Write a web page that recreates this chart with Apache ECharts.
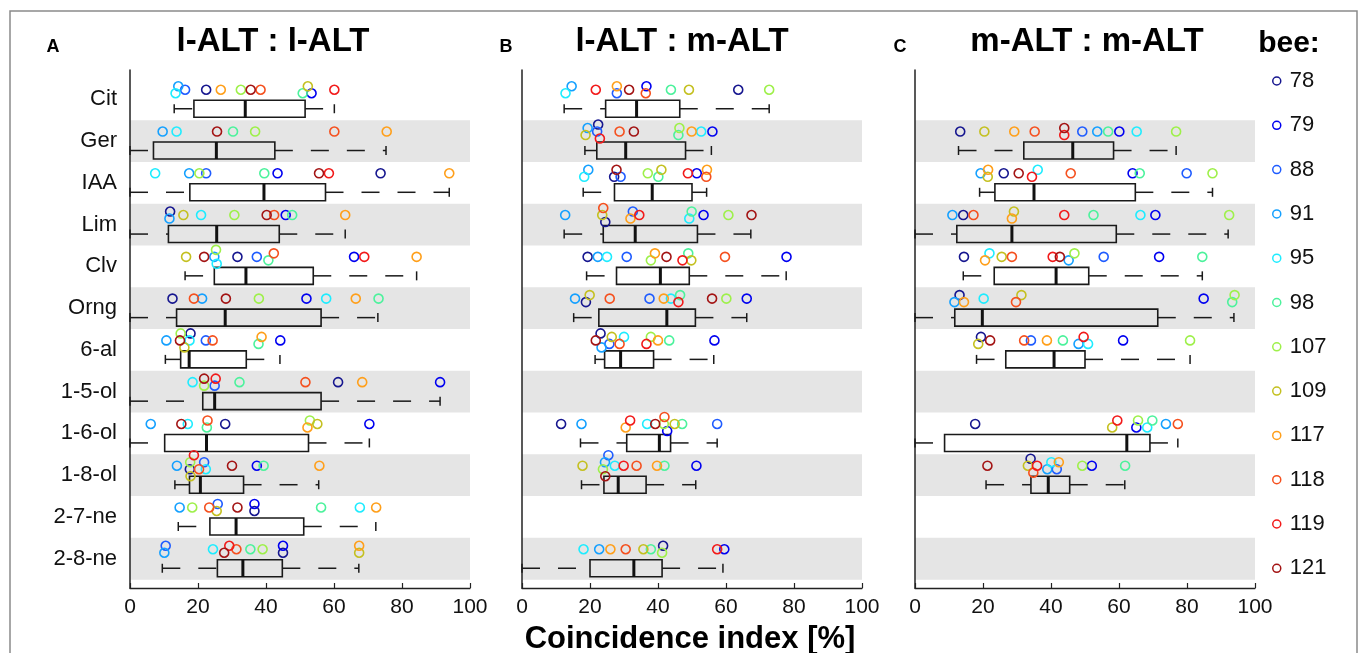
<!DOCTYPE html>
<html><head><meta charset="utf-8">
<script src="https://cdn.jsdelivr.net/npm/echarts@6/dist/echarts.min.js"></script>
<style>html,body{margin:0;padding:0;background:#fff}#chart{width:1359px;height:653px}</style>
</head><body><div id="chart"></div>
<script>
const categories = ['Cit','Ger','IAA','Lim','Clv','Orng','6-al','1-5-ol','1-6-ol','1-8-ol','2-7-ne','2-8-ne'];
const bees = ['78','79','88','91','95','98','107','109','117','118','119','121'];
const panelTitles = ['l-ALT : l-ALT','l-ALT : m-ALT','m-ALT : m-ALT'];
const panelLetters = ['A','B','C'];
const xAxisName = 'Coincidence index [%]';
const legendTitle = 'bee:';

// box statistics per category: [lower whisker, q1, median, q3, upper whisker]
const boxA = [
  [13.0,18.8,33.9,51.5,60.1],[0,6.9,25.4,42.6,75.3],[0,17.6,39.4,57.5,93.9],[0,11.3,25.5,43.9,63.3],
  [16.2,24.8,34.1,53.9,84.3],[0,13.7,28.0,56.2,72.9],[10.4,14.9,17.4,34.2,44.1],[0,21.4,24.9,56.2,91.2],
  [0,10.2,22.5,52.5,70.4],[13.2,17.5,20.7,33.4,55.5],[14.2,23.5,31.2,51.1,72.3],[9.5,25.7,33.2,44.8,67.3]
];
const boxB = [
  [12.4,24.6,33.7,46.4,72.7],[18.5,22.0,30.5,48.1,55.7],[18.0,27.2,38.3,50.0,54.3],[12.4,23.9,33.3,51.6,67.3],
  [19.0,27.8,40.7,49.2,77.7],[15.2,22.6,42.6,51.0,66.1],[21.5,24.3,29.0,38.7,56.4],null,
  [17.2,30.8,40.4,43.7,57.4],[17.5,24.1,28.3,36.5,51.1],null,[0,20.0,32.9,41.2,59.1]
];
const boxC = [
  null,[12.8,32.0,46.4,58.4,76.8],[19.0,23.5,35.0,64.8,87.5],[0,12.3,28.5,59.2,92.1],
  [14.2,23.3,41.5,51.1,84.5],[0,11.7,19.8,71.4,93.8],[18.1,26.7,40.9,50.0,80.9],null,
  [0,8.7,62.3,69.1,77.3],[20.9,34.1,39.2,45.5,61.7],null,null
];

// per-bee values per category (bee order as in `bees`)
const _ = null;
const beeValsA = [
  [22.4,53.4,16.2,14.2,13.4,50.8,32.6,52.3,26.7,38.4,60.1,35.5],
  [_,_,_,9.6,13.7,30.3,36.8,_,75.5,60.1,_,25.6],
  [73.7,43.4,22.4,17.4,7.4,39.5,20.4,_,93.9,_,58.5,55.6],
  [11.8,45.8,_,11.6,20.9,47.7,30.7,15.7,63.3,42.4,_,40.2],
  [31.6,65.9,37.3,24.8,25.5,40.7,25.3,16.5,84.3,42.3,68.9,21.8],
  [12.5,51.9,_,21.2,57.7,73.1,37.9,_,66.4,18.8,_,28.2],
  [17.8,44.2,22.3,10.7,17.5,37.8,14.9,16.0,38.7,24.3,_,14.7],
  [61.2,91.2,24.9,_,18.4,32.2,21.8,_,68.3,51.6,25.2,21.8],
  [28.0,70.4,_,6.1,17.0,22.6,52.9,55.1,52.2,22.8,_,15.1],
  [17.6,37.3,21.8,13.8,22.3,39.3,17.7,17.8,55.7,20.3,18.8,30.0],
  [36.6,36.6,25.8,14.6,67.6,56.2,18.3,25.5,72.4,23.3,_,31.6],
  [45.0,45.0,10.5,10.1,24.4,35.4,39.0,67.4,67.4,31.3,29.2,27.7]
];
const beeValsB = [
  [63.6,36.6,27.9,14.6,12.8,43.8,72.7,49.1,27.9,36.4,21.7,31.5],
  [22.4,56.0,22.1,19.3,52.7,46.0,46.3,18.7,49.9,28.7,22.9,32.9],
  [27.1,51.4,29.0,19.5,18.3,40.1,37.0,41.0,54.4,54.2,48.8,27.8],
  [24.5,53.4,32.6,12.7,49.2,49.9,60.7,23.6,31.9,23.9,34.5,67.5],
  [19.3,77.8,30.8,22.3,25.0,48.9,37.9,49.8,39.1,59.7,47.2,42.5],
  [18.8,66.1,37.5,15.6,43.8,46.5,60.1,19.9,41.7,25.8,46.0,55.9],
  [23.1,56.6,25.7,23.4,30.0,43.3,37.9,26.4,40.0,28.7,36.6,21.7],
  [_,_,_,_,_,_,_,_,_,_,_,_],
  [11.5,42.7,57.4,17.5,36.8,47.1,41.7,44.9,30.5,41.9,31.8,39.2],
  [_,51.3,25.4,24.4,27.3,41.9,23.8,17.8,39.7,33.7,29.9,24.5],
  [_,_,_,_,_,_,_,_,_,_,_,_],
  [41.5,59.5,_,22.7,18.1,37.9,41.2,35.7,26.0,30.5,57.4,_]
];
const beeValsC = [
  [_,_,_,_,_,_,_,_,_,_,_,_],
  [13.3,60.1,49.2,53.6,65.2,56.8,76.8,20.4,29.2,35.2,43.9,43.9],
  [26.1,64.0,79.9,19.3,36.1,66.1,87.5,21.4,21.5,45.8,34.4,30.5],
  [14.2,70.7,_,11.0,66.3,52.5,92.4,29.1,28.5,17.2,43.9,_],
  [14.4,71.8,55.5,45.2,21.9,84.5,46.9,25.5,20.6,28.5,40.5,42.6],
  [13.1,84.9,_,11.6,20.2,93.3,94.0,31.3,14.4,29.7,_,_],
  [19.4,61.2,34.1,48.1,50.9,43.5,80.9,18.6,38.8,32.1,49.6,22.1],
  [_,_,_,_,_,_,_,_,_,_,_,_],
  [17.7,65.1,_,73.8,68.3,69.8,65.6,58.0,_,77.3,59.5,_],
  [34.0,52.0,41.7,38.9,40.1,61.8,49.2,33.2,42.3,34.8,35.9,21.3],
  [_,_,_,_,_,_,_,_,_,_,_,_],
  [_,_,_,_,_,_,_,_,_,_,_,_]
];

// styles
const beeColors = ['#16168f','#0000f0','#1f5cff','#14a0ff','#1eecff','#4cf29c','#9ef04a','#c4c020','#ff9f1a','#f5501e','#f21a1a','#a31414'];
const FONT = '"Liberation Sans", Arial, Helvetica, sans-serif';
const panelLeft = [130, 522, 915];
const panelWidth = 340;
const plotTop = 70, plotHeight = 518;
const titleX = [273, 682, 1087];
const letterX = [53, 506, 900];
const JITTER_STEP = 7;

const boxes = [boxA, boxB, boxC];
const beeVals = [beeValsA, beeValsB, beeValsC];

// de-overlap markers: stack colliding circles, then centre each stacked cluster
function jitterLevels(row) {
  const idx = row.map((v, b) => v == null ? -1 : b).filter(b => b >= 0).sort((a, b) => row[a] - row[b]);
  const placed = [], lv = {};
  const order = [0, -1, 1, -2, 2];
  idx.forEach(b => {
    lv[b] = 0;
    for (const L of order) {
      if (!placed.some(p => p.L === L && Math.abs(p.v - row[b]) < 1.8)) { lv[b] = L; break; }
    }
    placed.push({ L: lv[b], v: row[b] });
  });
  // clusters of mutually close points
  let cluster = [];
  const flush = () => {
    if (cluster.length > 1) {
      const ls = cluster.map(b => lv[b]);
      const mid = (Math.min(...ls) + Math.max(...ls)) / 2;
      cluster.forEach(b => { lv[b] -= mid; });
    }
    cluster = [];
  };
  idx.forEach((b, k) => {
    if (k > 0 && row[b] - row[idx[k - 1]] >= 1.8) flush();
    cluster.push(b);
  });
  flush();
  return lv;
}

function boxRender(params, api) {
  const c = api.value(0);
  const xs = [1, 2, 3, 4, 5].map(i => api.coord([api.value(i), c])[0]);
  const yc = api.coord([0, c])[1] + 9.5;
  const h = 8.5, ch = 4.5;
  const st = { stroke: '#1a1a1a', lineWidth: 1.5, fill: null };
  return { type: 'group', children: [
    { type: 'line', shape: { x1: xs[0], y1: yc, x2: xs[1], y2: yc }, style: Object.assign({}, st, { lineDash: [18, 18] }) },
    { type: 'line', shape: { x1: xs[3], y1: yc, x2: xs[4], y2: yc }, style: Object.assign({}, st, { lineDash: [18, 18] }) },
    { type: 'line', shape: { x1: xs[0], y1: yc - ch, x2: xs[0], y2: yc + ch }, style: st },
    { type: 'line', shape: { x1: xs[4], y1: yc - ch, x2: xs[4], y2: yc + ch }, style: st },
    { type: 'rect', shape: { x: xs[1], y: yc - h, width: xs[3] - xs[1], height: 2 * h }, style: { stroke: '#1a1a1a', lineWidth: 1.6, fill: 'rgba(0,0,0,0)' } },
    { type: 'line', shape: { x1: xs[2], y1: yc - h, x2: xs[2], y2: yc + h }, style: { stroke: '#111', lineWidth: 3 } }
  ]};
}

function bandRender(params, api) {
  const i = api.value(0);
  const p1 = api.coord([0, i - 0.5]);
  const p2 = api.coord([100, i + 0.5]);
  return { type: 'rect', shape: { x: p1[0], y: p1[1], width: p2[0] - p1[0], height: p2[1] - p1[1] }, style: { fill: '#e5e5e5' } };
}

const grid = [], xAxis = [], yAxis = [], series = [];
for (let p = 0; p < 3; p++) {
  grid.push({ left: panelLeft[p], top: plotTop, width: panelWidth, height: plotHeight });
  xAxis.push({
    type: 'value', gridIndex: p, min: 0, max: 100, interval: 20,
    axisLine: { onZero: false, lineStyle: { color: '#222', width: 1.3 } },
    axisTick: { inside: true, length: 5, lineStyle: { color: '#222', width: 1.2 } },
    axisLabel: { fontSize: 21, color: '#111', margin: 9, fontFamily: FONT },
    splitLine: { show: false }
  });
  yAxis.push({
    type: 'value', gridIndex: p, min: -0.7, max: 11.7, inverse: true,
    axisLine: { show: true, onZero: false, lineStyle: { color: '#222', width: 1.5 } },
    axisTick: { show: false },
    splitLine: { show: false },
    axisLabel: p === 0 ? {
      show: true, customValues: categories.map((c, i) => i),
      formatter: v => categories[Math.round(v)], fontSize: 22, color: '#111', margin: 13, fontFamily: FONT
    } : { show: false }
  });
  series.push({
    type: 'custom', xAxisIndex: p, yAxisIndex: p, z: -1, silent: true,
    renderItem: bandRender, encode: { x: -1, y: 0 },
    data: categories.map((c, i) => i).filter(i => i % 2 === 1).map(i => [i])
  });
  series.push({
    type: 'custom', xAxisIndex: p, yAxisIndex: p, z: 3, silent: true,
    renderItem: boxRender, encode: { x: [1, 2, 3, 4, 5], y: 0 },
    data: boxes[p].map((b, i) => b ? [i].concat(b) : null).filter(Boolean)
  });
  const levels = beeVals[p].map(row => jitterLevels(row));
  bees.forEach((bee, b) => {
    const data = [];
    beeVals[p].forEach((row, i) => {
      if (row[b] == null) return;
      data.push({ value: [row[b], i], symbolOffset: [0, -9.5 + levels[i][b] * JITTER_STEP] });
    });
    series.push({
      type: 'scatter', name: bee, xAxisIndex: p, yAxisIndex: p, z: 5,
      symbol: 'circle', symbolSize: 9,
      itemStyle: { color: 'rgba(255,255,255,0)', borderColor: beeColors[b], borderWidth: 1.6, opacity: 1 },
      data: data
    });
  });
}

const graphic = [
  { type: 'rect', shape: { x: 10, y: 11, width: 1347, height: 670 }, style: { fill: null, stroke: '#8a8a8a', lineWidth: 1.5 }, z: 100, silent: true }
];
for (let p = 0; p < 3; p++) {
  graphic.push({ type: 'text', x: titleX[p], y: 42, style: { text: panelTitles[p], font: 'bold 33px ' + FONT, fill: '#000', textAlign: 'center', textVerticalAlign: 'middle' } });
  graphic.push({ type: 'text', x: letterX[p], y: 47, style: { text: panelLetters[p], font: 'bold 18px ' + FONT, fill: '#000', textAlign: 'center', textVerticalAlign: 'middle' } });
}
graphic.push({ type: 'text', x: 1289, y: 44, style: { text: legendTitle, font: 'bold 30px ' + FONT, fill: '#000', textAlign: 'center', textVerticalAlign: 'middle' } });
graphic.push({ type: 'text', x: 690, y: 639, style: { text: xAxisName, font: 'bold 31px ' + FONT, fill: '#000', textAlign: 'center', textVerticalAlign: 'middle' } });

const chart = echarts.init(document.getElementById('chart'), null, { renderer: 'canvas' });
chart.setOption({
  animation: false,
  backgroundColor: '#fff',
  textStyle: { fontFamily: FONT },
  grid, xAxis, yAxis, series, graphic,
  legend: {
    orient: 'vertical', left: 1272, top: 70, itemWidth: 8, itemHeight: 8, itemGap: 22.3, padding: 0,
    selectedMode: false,
    textStyle: { fontSize: 22, lineHeight: 22, color: '#111', fontFamily: FONT, padding: [0, 0, 0, 4] },
    data: bees.map((b, i) => ({ name: b, icon: 'circle', itemStyle: { color: '#fff', borderColor: beeColors[i], borderWidth: 1.5 } }))
  }
});
</script>
</body></html>
